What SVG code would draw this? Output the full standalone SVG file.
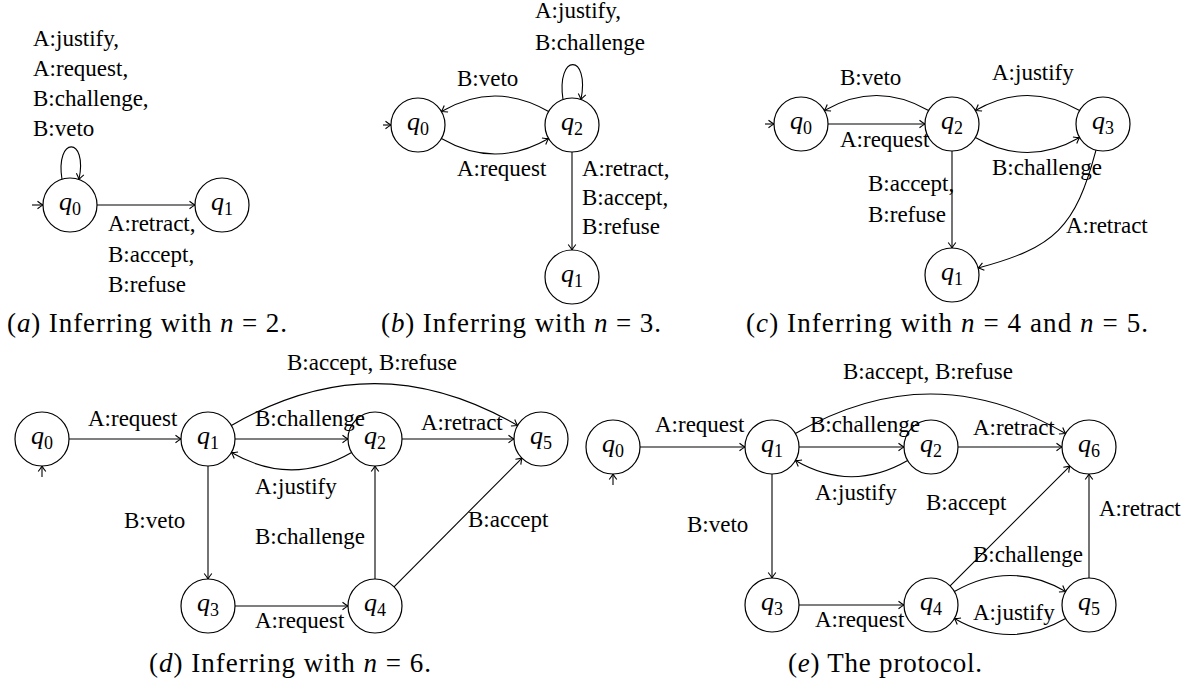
<svg xmlns="http://www.w3.org/2000/svg" width="1199" height="684" viewBox="0 0 1199 684" font-family="Liberation Serif, DejaVu Serif, Times New Roman, serif">
<style>
  .bg { fill: #ffffff; }
  .st { fill: #ffffff; stroke: #000; stroke-width: 1.2; }
  .q { font-size: 26px; fill: #000; text-anchor: middle; }
  .q .v { font-style: italic; }
  .q .s { font-size: 18px; }
  .e { fill: none; stroke: #000; stroke-width: 1.1; marker-end: url(#arr); }
  .lb { font-size: 23px; fill: #000; }
  .cap { font-size: 27px; fill: #000; text-anchor: middle; }
  .it { font-style: italic; }
</style>
<defs>
  <marker id="arr" markerUnits="userSpaceOnUse" markerWidth="10" markerHeight="10" refX="0" refY="0" orient="auto" overflow="visible">
    <path d="M -5.5 -3.8 Q -1.8 -0.9 0 0 Q -1.8 0.9 -5.5 3.8" fill="none" stroke="#000" stroke-width="1.1"/>
  </marker>
</defs>
<rect class="bg" x="0" y="0" width="1199" height="684"/>

<!-- ===== Panel (a) ===== -->
<g id="connectors-a">
  <path class="e" d="M 32 205 L 43 205"/>
  <path class="e" d="M 62 179.5 C 55 136, 88 136, 79 179.5"/>
  <path class="e" d="M 97 205 L 195 205"/>
</g>
<g id="a-q0"><circle class="st" cx="70" cy="205" r="27"/><text class="q" x="70" y="210"><tspan class="v">q</tspan><tspan class="s" dy="5">0</tspan></text></g>
<g id="a-q1"><circle class="st" cx="222" cy="205" r="27"/><text class="q" x="222" y="210"><tspan class="v">q</tspan><tspan class="s" dy="5">1</tspan></text></g>
<g id="labels-a">
  <text class="lb" x="33" y="46">A:justify,</text>
  <text class="lb" x="33" y="76">A:request,</text>
  <text class="lb" x="33" y="106">B:challenge,</text>
  <text class="lb" x="33" y="136">B:veto</text>
  <text class="lb" x="108" y="231">A:retract,</text>
  <text class="lb" x="108" y="262">B:accept,</text>
  <text class="lb" x="108" y="292">B:refuse</text>
  <text class="cap" x="147" y="332" textLength="280" lengthAdjust="spacing">(<tspan class="it">a</tspan>) Inferring with <tspan class="it">n</tspan> = 2.</text>
</g>

<!-- ===== Panel (b) ===== -->
<g id="connectors-b">
  <path class="e" d="M 383 125 L 391 125"/>
  <path class="e" d="M 563 99.5 C 556 53, 590 53, 581 99.5"/>
  <path class="e" d="M 548.6 111.5 C 512.4 90.6, 477.6 90.6, 441.4 111.5"/>
  <path class="e" d="M 441.4 138.5 C 477.6 159.4, 512.4 159.4, 548.6 138.5"/>
  <path class="e" d="M 572 152 L 572 250"/>
</g>
<g id="b-q0"><circle class="st" cx="418" cy="125" r="27"/><text class="q" x="418" y="130"><tspan class="v">q</tspan><tspan class="s" dy="5">0</tspan></text></g>
<g id="b-q2"><circle class="st" cx="572" cy="125" r="27"/><text class="q" x="572" y="130"><tspan class="v">q</tspan><tspan class="s" dy="5">2</tspan></text></g>
<g id="b-q1"><circle class="st" cx="572" cy="277" r="27"/><text class="q" x="572" y="282"><tspan class="v">q</tspan><tspan class="s" dy="5">1</tspan></text></g>
<g id="labels-b">
  <text class="lb" x="535" y="18">A:justify,</text>
  <text class="lb" x="535" y="50">B:challenge</text>
  <text class="lb" x="457" y="86">B:veto</text>
  <text class="lb" x="457" y="176">A:request</text>
  <text class="lb" x="582" y="176">A:retract,</text>
  <text class="lb" x="582" y="205">B:accept,</text>
  <text class="lb" x="582" y="234">B:refuse</text>
  <text class="cap" x="521" y="332" textLength="280" lengthAdjust="spacing">(<tspan class="it">b</tspan>) Inferring with <tspan class="it">n</tspan> = 3.</text>
</g>

<!-- ===== Panel (c) ===== -->
<g id="connectors-c">
  <path class="e" d="M 765 124 L 774 124"/>
  <path class="e" d="M 828 124 L 925 124"/>
  <path class="e" d="M 928.6 110.5 C 893.4 90.2, 859.6 90.2, 824.4 110.5"/>
  <path class="e" d="M 1079.6 110.5 C 1044.4 90.2, 1010.6 90.2, 975.4 110.5"/>
  <path class="e" d="M 975.4 137.5 C 1010.6 157.8, 1044.4 157.8, 1079.6 137.5"/>
  <path class="e" d="M 952 151 L 952 248"/>
  <path class="e" d="M 1096 150.1 C 1075.3 227.4, 1055.4 247.3, 978.1 268"/>
</g>
<g id="c-q0"><circle class="st" cx="801" cy="124" r="27"/><text class="q" x="801" y="129"><tspan class="v">q</tspan><tspan class="s" dy="5">0</tspan></text></g>
<g id="c-q2"><circle class="st" cx="952" cy="124" r="27"/><text class="q" x="952" y="129"><tspan class="v">q</tspan><tspan class="s" dy="5">2</tspan></text></g>
<g id="c-q3"><circle class="st" cx="1103" cy="124" r="27"/><text class="q" x="1103" y="129"><tspan class="v">q</tspan><tspan class="s" dy="5">3</tspan></text></g>
<g id="c-q1"><circle class="st" cx="952" cy="275" r="27"/><text class="q" x="952" y="280"><tspan class="v">q</tspan><tspan class="s" dy="5">1</tspan></text></g>
<g id="labels-c">
  <text class="lb" x="840" y="85">B:veto</text>
  <text class="lb" x="992" y="80">A:justify</text>
  <text class="lb" x="840" y="147">A:request</text>
  <text class="lb" x="992" y="175">B:challenge</text>
  <text class="lb" x="868" y="191">B:accept,</text>
  <text class="lb" x="868" y="222">B:refuse</text>
  <text class="lb" x="1066" y="233">A:retract</text>
  <text class="cap" x="947" y="332" textLength="402" lengthAdjust="spacing">(<tspan class="it">c</tspan>) Inferring with <tspan class="it">n</tspan> = 4 and <tspan class="it">n</tspan> = 5.</text>
</g>

<!-- ===== Panel (d) ===== -->
<g id="connectors-d">
  <path class="e" d="M 42 477 L 42 466"/>
  <path class="e" d="M 69 439 L 181 439"/>
  <path class="e" d="M 235 439 L 348 439"/>
  <path class="e" d="M 402 439 L 514 439"/>
  <path class="e" d="M 351.6 452.5 C 311 475.9, 272 475.9, 231.4 452.5"/>
  <path class="e" d="M 231.4 425.5 C 328.1 369.7, 420.9 369.7, 517.6 425.5"/>
  <path class="e" d="M 208 466 L 208 579"/>
  <path class="e" d="M 235 606 L 348 606"/>
  <path class="e" d="M 375 579 L 375 466"/>
  <path class="e" d="M 394 586.9 L 522 458.1"/>
</g>
<g id="d-q0"><circle class="st" cx="42" cy="439" r="27"/><text class="q" x="42" y="444"><tspan class="v">q</tspan><tspan class="s" dy="5">0</tspan></text></g>
<g id="d-q1"><circle class="st" cx="208" cy="439" r="27"/><text class="q" x="208" y="444"><tspan class="v">q</tspan><tspan class="s" dy="5">1</tspan></text></g>
<g id="d-q2"><circle class="st" cx="375" cy="439" r="27"/><text class="q" x="375" y="444"><tspan class="v">q</tspan><tspan class="s" dy="5">2</tspan></text></g>
<g id="d-q5"><circle class="st" cx="541" cy="439" r="27"/><text class="q" x="541" y="444"><tspan class="v">q</tspan><tspan class="s" dy="5">5</tspan></text></g>
<g id="d-q3"><circle class="st" cx="208" cy="606" r="27"/><text class="q" x="208" y="611"><tspan class="v">q</tspan><tspan class="s" dy="5">3</tspan></text></g>
<g id="d-q4"><circle class="st" cx="375" cy="606" r="27"/><text class="q" x="375" y="611"><tspan class="v">q</tspan><tspan class="s" dy="5">4</tspan></text></g>
<g id="labels-d">
  <text class="lb" x="88" y="426">A:request</text>
  <text class="lb" x="255" y="426">B:challenge</text>
  <text class="lb" x="255" y="494">A:justify</text>
  <text class="lb" x="287" y="370">B:accept, B:refuse</text>
  <text class="lb" x="421" y="430">A:retract</text>
  <text class="lb" x="124" y="528">B:veto</text>
  <text class="lb" x="255" y="544">B:challenge</text>
  <text class="lb" x="468" y="527">B:accept</text>
  <text class="lb" x="255" y="628">A:request</text>
  <text class="cap" x="290" y="672" textLength="282" lengthAdjust="spacing">(<tspan class="it">d</tspan>) Inferring with <tspan class="it">n</tspan> = 6.</text>
</g>

<!-- ===== Panel (e) ===== -->
<g id="connectors-e">
  <path class="e" d="M 613 485 L 613 474"/>
  <path class="e" d="M 640 447 L 745 447"/>
  <path class="e" d="M 799 447 L 904 447"/>
  <path class="e" d="M 958 447 L 1062 447"/>
  <path class="e" d="M 907.6 460.5 C 869.7 482.4, 833.3 482.4, 795.4 460.5"/>
  <path class="e" d="M 795.4 433.5 C 886.7 380.8, 974.3 380.8, 1065.6 433.5"/>
  <path class="e" d="M 772 474 L 772 578"/>
  <path class="e" d="M 799 605 L 904 605"/>
  <path class="e" d="M 950.1 585.9 L 1069.9 466.1"/>
  <path class="e" d="M 954.4 591.5 C 992 569.8, 1028 569.8, 1065.6 591.5"/>
  <path class="e" d="M 1065.6 618.5 C 1028 640.2, 992 640.2, 954.4 618.5"/>
  <path class="e" d="M 1089 578 L 1089 474"/>
</g>
<g id="e-q0"><circle class="st" cx="613" cy="447" r="27"/><text class="q" x="613" y="452"><tspan class="v">q</tspan><tspan class="s" dy="5">0</tspan></text></g>
<g id="e-q1"><circle class="st" cx="772" cy="447" r="27"/><text class="q" x="772" y="452"><tspan class="v">q</tspan><tspan class="s" dy="5">1</tspan></text></g>
<g id="e-q2"><circle class="st" cx="931" cy="447" r="27"/><text class="q" x="931" y="452"><tspan class="v">q</tspan><tspan class="s" dy="5">2</tspan></text></g>
<g id="e-q6"><circle class="st" cx="1089" cy="447" r="27"/><text class="q" x="1089" y="452"><tspan class="v">q</tspan><tspan class="s" dy="5">6</tspan></text></g>
<g id="e-q3"><circle class="st" cx="772" cy="605" r="27"/><text class="q" x="772" y="610"><tspan class="v">q</tspan><tspan class="s" dy="5">3</tspan></text></g>
<g id="e-q4"><circle class="st" cx="931" cy="605" r="27"/><text class="q" x="931" y="610"><tspan class="v">q</tspan><tspan class="s" dy="5">4</tspan></text></g>
<g id="e-q5"><circle class="st" cx="1089" cy="605" r="27"/><text class="q" x="1089" y="610"><tspan class="v">q</tspan><tspan class="s" dy="5">5</tspan></text></g>
<g id="labels-e">
  <text class="lb" x="655" y="432">A:request</text>
  <text class="lb" x="810" y="432">B:challenge</text>
  <text class="lb" x="815" y="500">A:justify</text>
  <text class="lb" x="843" y="379">B:accept, B:refuse</text>
  <text class="lb" x="973" y="435">A:retract</text>
  <text class="lb" x="687" y="532">B:veto</text>
  <text class="lb" x="815" y="627">A:request</text>
  <text class="lb" x="926" y="510">B:accept</text>
  <text class="lb" x="973" y="562">B:challenge</text>
  <text class="lb" x="973" y="620">A:justify</text>
  <text class="lb" x="1099" y="516">A:retract</text>
  <text class="cap" x="885" y="672" textLength="194" lengthAdjust="spacing">(<tspan class="it">e</tspan>) The protocol.</text>
</g>
</svg>
